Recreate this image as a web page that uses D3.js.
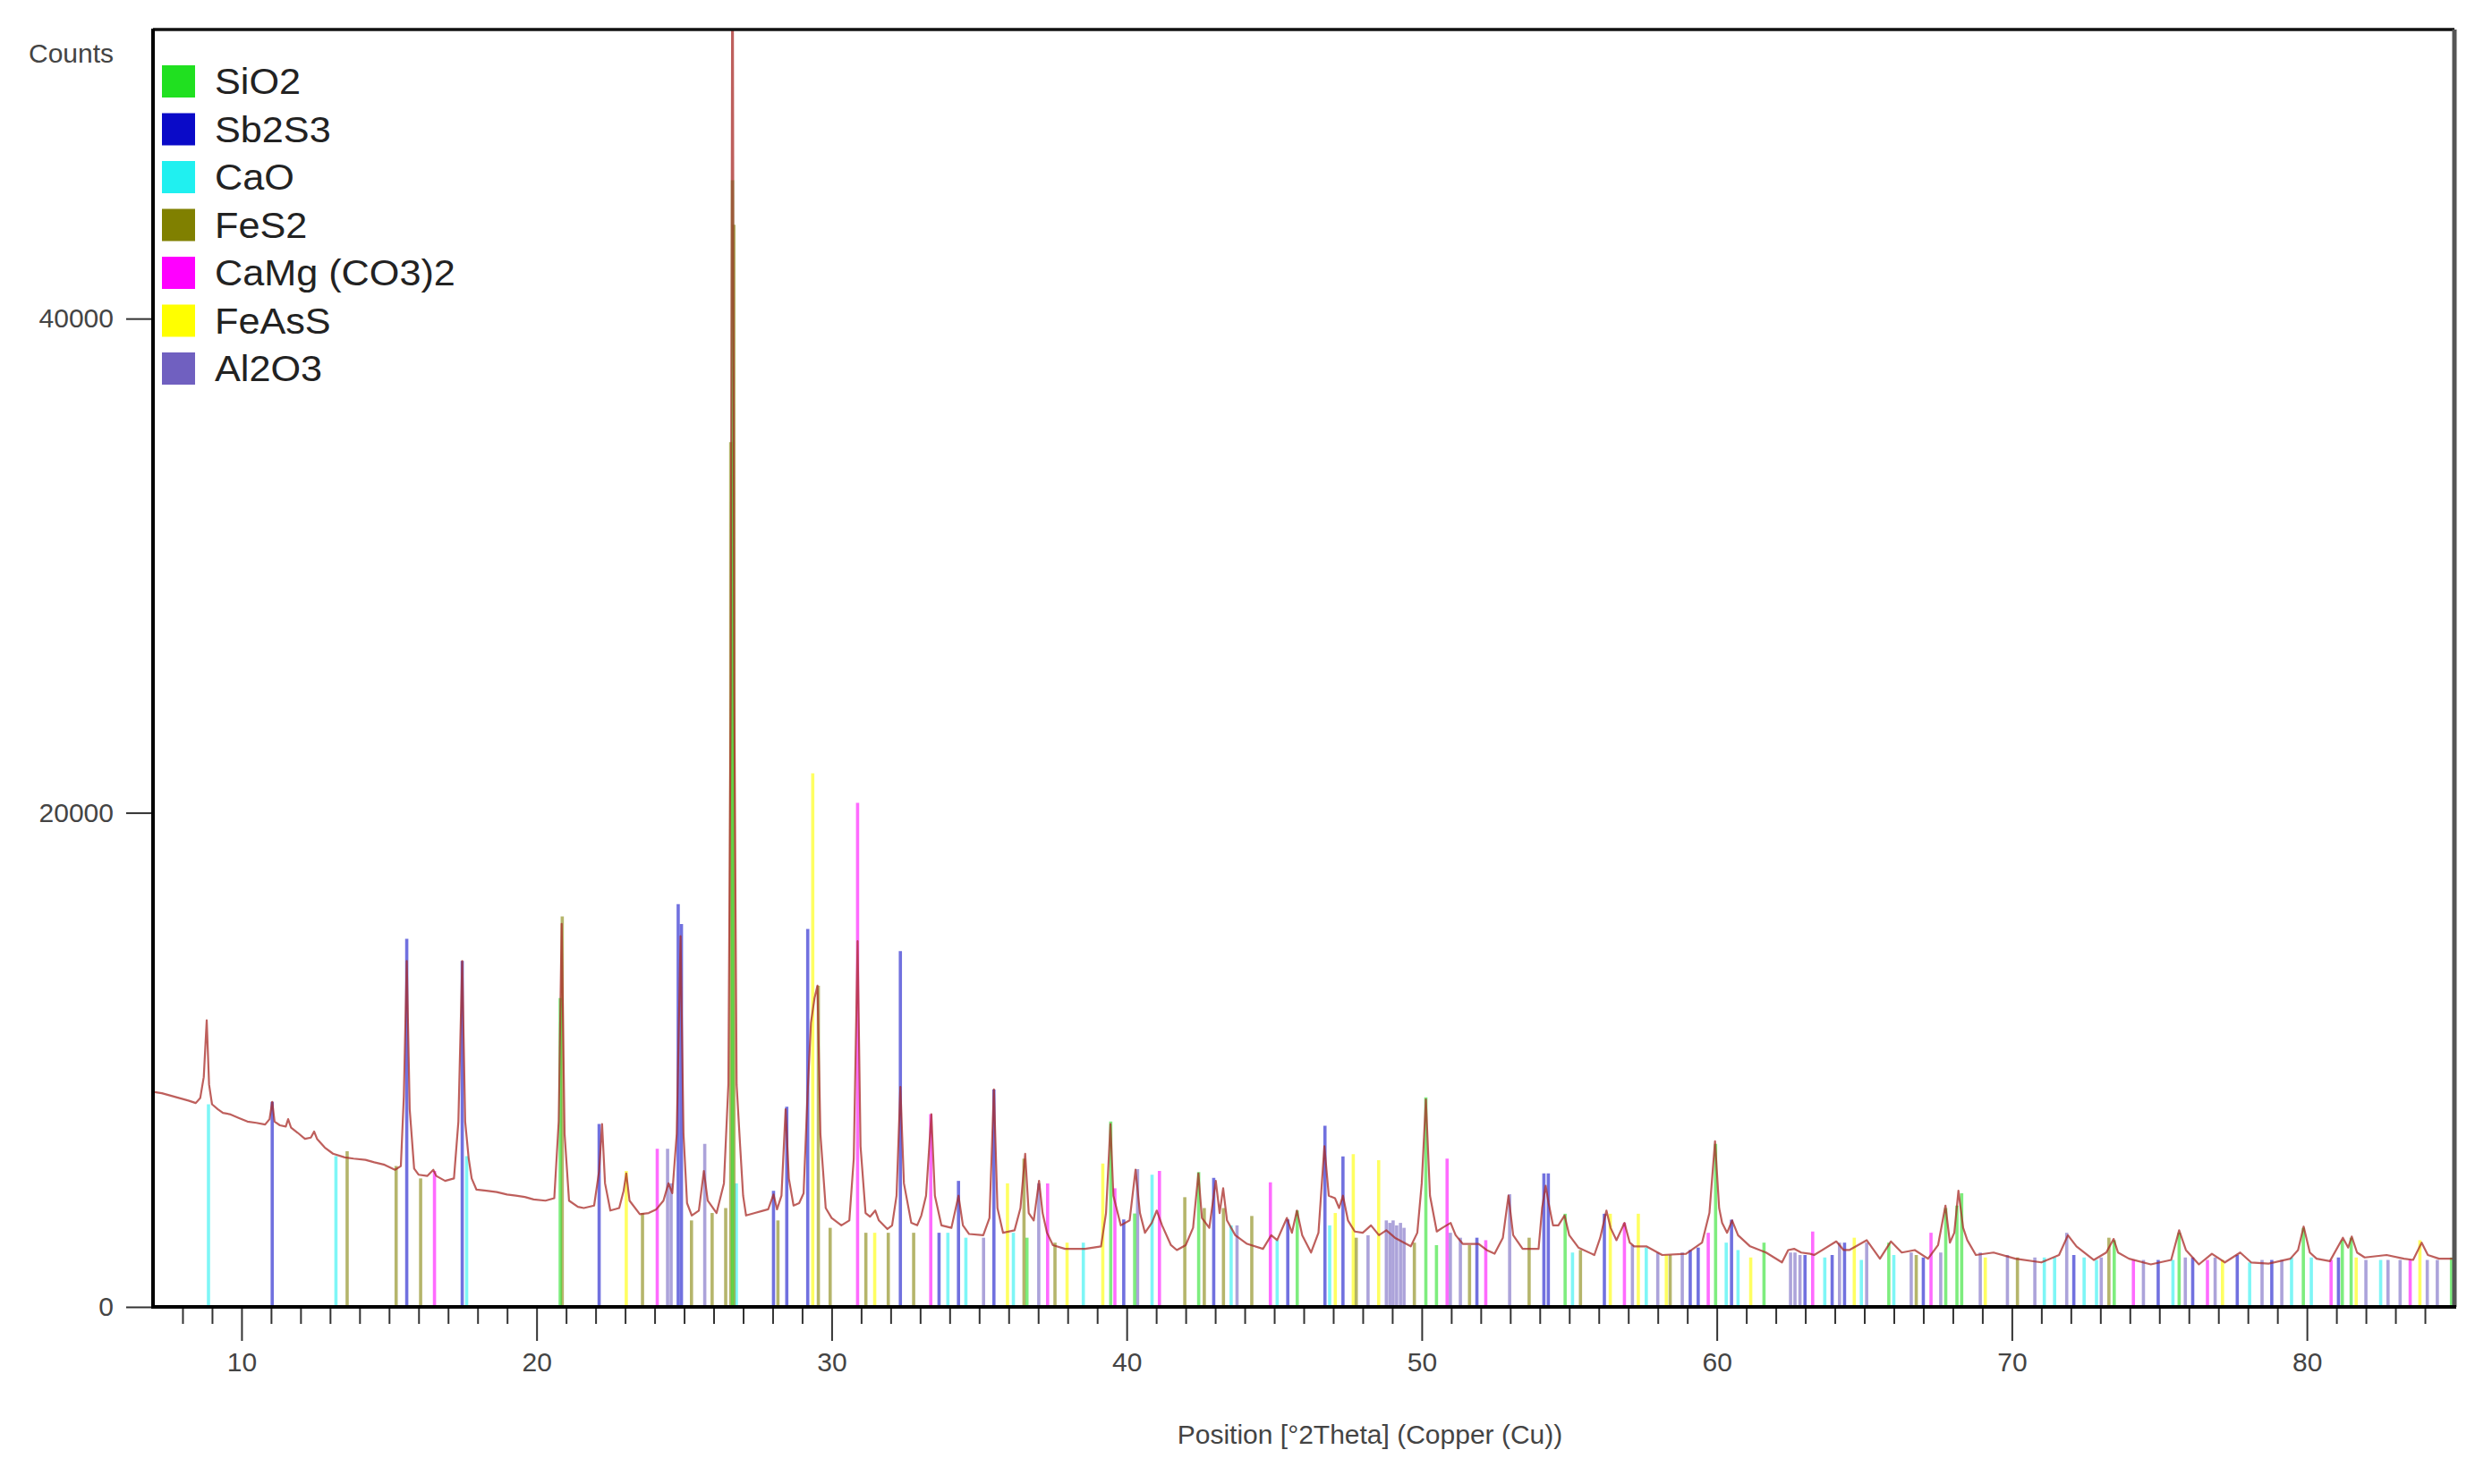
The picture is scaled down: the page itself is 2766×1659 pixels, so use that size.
<!DOCTYPE html>
<html><head><meta charset="utf-8">
<script src="https://cdn.jsdelivr.net/npm/d3@7"></script>
<style>
html,body{margin:0;padding:0;background:#fff;}
svg{display:block;font-family:"Liberation Sans",Arial,sans-serif;}
</style></head><body>
<svg id="chart" width="2766" height="1659"></svg>
<script>
// ---------- DATA ----------
const phaseNames  = ["SiO2","Sb2S3","CaO","FeS2","CaMg (CO3)2","FeAsS","Al2O3"];
const phaseColors = ["#20E020","#0A0AC8","#20F0F0","#808000","#FF00FF","#FFFF00","#7060C0"];

const xTickLabels = [10,20,30,40,50,60,70,80];
const yTickLabels = [0,20000,40000];

// observed pattern [2theta, counts]
const patternData = [
[7.00,8700],[7.3,8650],[7.6,8550],[7.9,8450],[8.2,8350],[8.45,8250],[8.6,8450],[8.72,9300],[8.82,11600],[8.9,9000],
[9.0,8200],[9.2,8000],[9.37,7850],[9.6,7800],[9.9,7650],[10.2,7500],[10.5,7450],[10.8,7380],[10.95,7600],[11.04,8300],
[11.12,7500],[11.3,7350],[11.5,7300],[11.58,7600],[11.68,7250],[11.9,7050],[12.15,6800],[12.35,6850],[12.46,7100],[12.56,6800],
[12.82,6450],[13.1,6200],[13.5,6050],[13.8,6000],[14.2,5950],[14.5,5850],[14.85,5750],[15.2,5550],[15.4,5700],[15.5,8500],
[15.6,14000],[15.7,8000],[15.85,5600],[16.0,5350],[16.3,5300],[16.5,5550],[16.6,5300],[16.9,5100],[17.2,5200],[17.35,7500],
[17.48,14000],[17.58,7500],[17.7,6000],[17.8,5200],[17.96,4750],[18.3,4700],[18.65,4650],[19.0,4550],[19.3,4500],[19.6,4450],
[19.9,4350],[20.3,4300],[20.6,4400],[20.75,7500],[20.85,15500],[20.95,7000],[21.1,4300],[21.4,4050],[21.6,4000],[21.95,4100],
[22.12,5500],[22.22,7400],[22.32,5000],[22.5,3900],[22.8,4000],[22.95,4700],[23.04,5400],[23.15,4300],[23.5,3750],[23.8,3800],
[24.06,3950],[24.3,4300],[24.47,5000],[24.6,4600],[24.75,7000],[24.88,15000],[24.98,7000],[25.1,4200],[25.26,3700],[25.5,3900],
[25.67,5500],[25.8,4300],[26.1,3800],[26.35,5000],[26.5,9000],[26.58,25000],[26.64,60000],[26.7,25000],[26.78,9000],[26.9,6500],
[27.0,4500],[27.1,3700],[27.4,3800],[27.63,3880],[27.85,3950],[28.03,4550],[28.15,3950],[28.3,4500],[28.44,8000],[28.55,5200],
[28.71,4100],[28.9,4200],[29.05,4600],[29.18,8500],[29.3,11500],[29.42,12500],[29.52,13000],[29.62,7000],[29.8,4000],[30.0,3600],
[30.33,3300],[30.6,3500],[30.75,6000],[30.88,14800],[30.98,6500],[31.15,3800],[31.3,3650],[31.48,3900],[31.6,3500],[31.89,3150],
[32.05,3300],[32.2,4500],[32.33,8900],[32.45,5000],[32.7,3400],[32.9,3300],[33.04,3700],[33.2,4500],[33.38,7800],[33.5,4500],
[33.72,3300],[34.06,3200],[34.3,4500],[34.45,3300],[34.66,2950],[35.14,2900],[35.35,3600],[35.5,8800],[35.62,4000],[35.81,3000],
[36.2,3100],[36.4,4000],[36.56,6200],[36.68,3800],[36.85,3500],[37.03,5100],[37.15,3800],[37.3,3000],[37.5,2500],[37.91,2350],
[38.3,2350],[38.59,2350],[39.13,2450],[39.3,3800],[39.45,7400],[39.55,4500],[39.8,3300],[40.1,3500],[40.3,5550],[40.45,3800],
[40.62,3000],[40.85,3400],[41.02,3900],[41.2,3300],[41.5,2500],[41.7,2300],[42.0,2500],[42.25,3200],[42.43,5400],[42.55,3600],
[42.8,3200],[43.02,5100],[43.15,3800],[43.27,4800],[43.4,3500],[43.68,2900],[44.08,2550],[44.62,2350],[44.9,2900],[45.1,2700],
[45.43,3600],[45.6,3000],[45.77,3900],[45.95,2900],[46.25,2200],[46.5,3000],[46.7,6500],[46.85,4500],[47.06,4400],[47.2,4000],
[47.33,4500],[47.5,3500],[47.73,3050],[48.0,3000],[48.28,3300],[48.55,2900],[48.8,3100],[49.09,2800],[49.4,2600],[49.63,2450],
[49.85,3000],[50.0,5000],[50.14,8400],[50.28,4500],[50.51,3050],[50.7,3200],[50.98,3400],[51.15,2900],[51.39,2550],[51.93,2550],
[52.2,2300],[52.47,2150],[52.75,2800],[52.94,4500],[53.1,2900],[53.42,2350],[53.96,2350],[54.08,4000],[54.2,4900],[54.3,4200],
[54.45,3300],[54.63,3300],[54.84,3700],[55.0,2900],[55.31,2400],[55.85,2100],[56.05,2800],[56.26,3900],[56.4,3200],[56.6,2700],
[56.87,3400],[57.05,2600],[57.2,2450],[57.61,2450],[58.15,2100],[58.96,2150],[59.5,2600],[59.75,3800],[59.94,6700],[60.08,4000],
[60.18,3400],[60.35,3000],[60.52,3500],[60.72,2900],[61.13,2450],[61.67,2200],[62.21,1800],[62.42,2300],[62.62,2350],[62.86,2200],
[63.16,2150],[63.3,2100],[64.05,2650],[64.3,2300],[64.49,2300],[65.08,2700],[65.53,1950],[65.9,2650],[66.27,2200],[66.71,2300],
[67.16,1950],[67.5,2500],[67.75,4100],[67.9,2600],[68.05,3000],[68.19,4700],[68.35,3200],[68.49,2700],[68.78,2100],[69.38,2200],
[70.12,1950],[71.0,1800],[71.6,2100],[71.9,2900],[72.19,2450],[72.78,1900],[73.2,2200],[73.45,2750],[73.6,2200],[73.97,1950],
[74.71,1720],[75.4,1900],[75.67,3100],[75.9,2300],[76.34,1720],[76.78,2150],[77.22,1800],[77.74,2200],[78.11,1800],[78.7,1750],
[79.44,1950],[79.7,2300],[79.89,3250],[80.1,2200],[80.33,1950],[80.78,1850],[81.22,2800],[81.4,2400],[81.52,2850],[81.7,2200],
[81.96,2000],[82.7,2100],[83.29,1950],[83.6,1900],[83.89,2600],[84.1,2100],[84.48,1950],[85.0,1950]
];

// reference sticks per phase [2theta, height]
const sio2Sticks = [[20.80,12500],[26.64,45600],[36.62,2800],[39.46,7500],[40.27,3780],[42.44,5460],[45.78,3900],[50.14,8480],
[50.5,2500],[54.86,3770],[59.96,6600],[61.6,2600],[65.83,2600],[67.76,4000],[68.14,4100],[68.3,4600],[73.47,2700],[75.67,3000],
[79.88,3200],[81.2,2700],[81.5,2800],[84.9,2000]];
const sb2s3Sticks = [[11.04,8300],[15.60,14900],[17.48,14000],[22.12,7400],[24.80,16300],[24.91,15500],[28.03,4700],[28.48,8100],
[29.19,15300],[32.33,14400],[33.64,3000],[34.30,5100],[35.50,8800],[39.90,3540],[42.95,5220],[45.46,3540],[46.72,7330],[47.33,6090],
[51.87,2800],[54.14,5400],[54.29,5400],[56.19,3770],[59.10,2300],[59.37,2400],[60.50,3530],[62.99,2100],[63.91,2100],[64.33,2600],
[67.0,2000],[72.1,2100],[74.96,1900],[76.13,2000],[77.64,2100],[78.81,1900],[81.07,2000]];
const caoSticks = [[8.88,8200],[13.20,6100],[17.63,6100],[26.77,5000],[33.94,3000],[34.55,2800],[36.16,3000],[38.53,2600],[40.86,5350],
[43.54,3300],[45.10,2700],[46.88,3300],[55.11,2200],[57.61,2400],[60.32,2600],[60.72,2300],[63.66,2000],[64.9,1900],[66.0,2100],
[71.1,2000],[71.45,2000],[72.45,2000],[72.87,1900],[75.46,1900],[78.06,1800],[79.48,2000],[80.15,2000],[82.5,1900]];
const fes2Sticks = [[13.58,6300],[15.24,5700],[16.07,5200],[20.87,15800],[23.59,3800],[25.25,3500],[25.95,3800],[26.41,4000],
[26.58,35000],[26.69,43800],
[28.18,3500],[29.55,13000],[29.95,3200],[31.16,3000],[31.92,3000],[32.78,3000],[36.52,6000],[37.57,2600],[41.97,4440],[42.63,4000],
[43.28,4000],[44.24,3680],[47.78,2800],[49.75,2600],[51.62,2500],[53.64,2800],[55.38,2300],[58.42,2100],[66.76,2100],[70.19,2000],
[73.29,2800]];
const camgSticks = [[16.54,5500],[24.09,6400],[30.88,20400],[33.36,7800],[37.32,5000],[39.60,4800],[41.11,5500],[44.87,5040],
[50.86,6000],[52.17,2700],[56.87,3400],[59.71,3000],[63.25,3050],[67.26,3000],[74.12,1900],[76.63,1900],[80.82,1900],[83.5,1900]];
const feassSticks = [[23.04,5500],[29.36,21600],[31.46,3000],[35.96,5000],[37.98,2600],[39.19,5800],[47.07,3800],[47.68,6180],
[48.54,5940],[56.39,3770],[57.34,3770],[58.29,2100],[61.15,2000],[64.66,2800],[69.1,2000],[77.14,1900],[81.67,2000],[83.83,2700]];
const al2o3Sticks = [[24.44,6400],[24.56,5000],[25.70,6600],[35.15,2800],[37.02,5000],[40.37,5580],[43.74,3300],[48.18,2900],
[48.80,3500],[48.92,3400],[49.03,3500],[49.15,3300],[49.28,3400],[49.40,3200],[50.97,3000],[51.31,2800],[52.98,4560],[57.14,2500],
[58.0,2200],[58.83,2200],[62.5,2200],[62.65,2200],[62.82,2100],[64.16,2600],[65.08,2600],[66.59,2200],[67.59,2200],[68.93,2200],
[69.85,2100],[70.78,2000],[71.86,3000],[73.03,2000],[74.46,1900],[75.88,2000],[76.89,2000],[78.48,1900],[79.15,1900],[82.0,1900],
[82.75,1900],[83.16,1900],[84.08,1900],[84.42,1900]];

const phaseSticks = [sio2Sticks, sb2s3Sticks, caoSticks, fes2Sticks, camgSticks, feassSticks, al2o3Sticks];
// draw order (back to front)
const drawOrder = [5, 2, 3, 6, 4, 1, 0];

// ---------- CHART ----------
const svg = d3.select("#chart");
const L = 171, R = 2743, T = 33, B = 1461;
const x = d3.scaleLinear().domain([7, 85]).range([L, R]);
const y = d3.scaleLinear().domain([0, 51700]).range([B, T]);

svg.append("defs").append("clipPath").attr("id","plotclip")
  .append("rect").attr("x",L).attr("y",T).attr("width",R-L).attr("height",B-T);

const plot = svg.append("g").attr("clip-path","url(#plotclip)");

drawOrder.forEach(pi => {
  plot.append("g").selectAll("line").data(phaseSticks[pi]).join("line")
    .attr("x1", d => x(d[0])).attr("x2", d => x(d[0]))
    .attr("y1", y(0)).attr("y2", d => y(d[1]))
    .attr("stroke", phaseColors[pi])
    .attr("stroke-width", 3.6)
    .attr("stroke-opacity", pi === 5 ? 0.62 : 0.58);
});

const line = d3.line().x(d => x(d[0])).y(d => y(d[1]));
plot.append("path").datum(patternData)
  .attr("d", line).attr("fill","none")
  .attr("stroke","#A82A26").attr("stroke-width",2.2)
  .attr("stroke-opacity",0.75).attr("stroke-linejoin","round");

// frame
svg.append("line").attr("x1",L).attr("x2",R).attr("y1",T).attr("y2",T).attr("stroke","#111").attr("stroke-width",3.5);
svg.append("line").attr("x1",R).attr("x2",R).attr("y1",T).attr("y2",B).attr("stroke","#555").attr("stroke-width",5);

// x axis major & minor
const xMinor = d3.range(8, 85).filter(v => v % 10 !== 0);
const gxMinor = svg.append("g").attr("transform",`translate(0,${B})`)
  .call(d3.axisBottom(x).tickValues(xMinor).tickSize(19).tickFormat(""));
const gx = svg.append("g").attr("transform",`translate(0,${B})`)
  .call(d3.axisBottom(x).tickValues(xTickLabels).tickSize(38).tickPadding(13).tickFormat(d3.format("d")));
[gxMinor, gx].forEach(g => {
  g.select(".domain").remove();
  g.selectAll(".tick line").attr("stroke","#333").attr("stroke-width",2);
});
gx.selectAll(".tick text").attr("fill","#444").style("font-size","30px")
  .style("font-family","'Liberation Sans',Arial,sans-serif");

// y axis
const gy = svg.append("g").attr("transform",`translate(${L},0)`)
  .call(d3.axisLeft(y).tickValues(yTickLabels).tickSize(30).tickPadding(14).tickFormat(d3.format("d")));
gy.select(".domain").remove();
gy.selectAll(".tick line").attr("stroke","#333").attr("stroke-width",2);
gy.selectAll(".tick text").attr("fill","#444").style("font-size","30px")
  .style("font-family","'Liberation Sans',Arial,sans-serif");

// left & bottom axis lines
svg.append("line").attr("x1",L).attr("x2",L).attr("y1",T-1).attr("y2",B+2).attr("stroke","#000").attr("stroke-width",4);
svg.append("line").attr("x1",L-2).attr("x2",R+2).attr("y1",B).attr("y2",B).attr("stroke","#000").attr("stroke-width",4);

// titles
svg.append("text").attr("x",32).attr("y",70).text("Counts")
  .attr("fill","#444").style("font-size","30px");
svg.append("text").attr("x",1531).attr("y",1614).attr("text-anchor","middle")
  .text("Position [°2Theta] (Copper (Cu))").attr("fill","#444").style("font-size","30px");

// legend
const leg = svg.append("g");
phaseNames.forEach((name, i) => {
  const cy = 91 + i * 53.5;
  leg.append("rect").attr("x",181).attr("y",cy-18).attr("width",37).attr("height",36)
    .attr("fill",phaseColors[i]);
  leg.append("text").attr("transform",`translate(240,${cy+14}) scale(1.08,1)`)
    .text(name).attr("fill","#222").style("font-size","40px");
});
</script>
</body></html>
